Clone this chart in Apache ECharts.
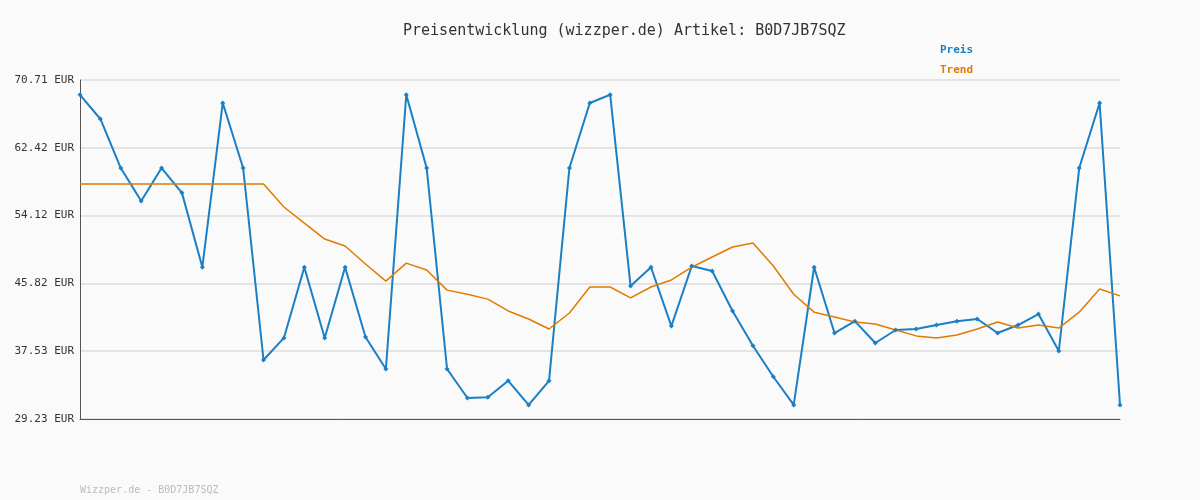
<!DOCTYPE html>
<html><head><meta charset="utf-8">
<script src="https://cdn.jsdelivr.net/npm/echarts@6/dist/echarts.min.js"></script>
<style>html,body{margin:0;padding:0;background:#fafafa}#c{width:1200px;height:500px}</style>
</head><body><div id="c"></div>
<script>
const title = 'Preisentwicklung (wizzper.de) Artikel: B0D7JB7SQZ';
const footer = 'Wizzper.de - B0D7JB7SQZ';
const yMin = 29.23, yMax = 70.71;
const tickLabels = ['29.23 EUR','37.53 EUR','45.82 EUR','54.12 EUR','62.42 EUR','70.71 EUR'];
const preis = [68.9,65.94,59.94,55.9,59.94,56.9,47.8,67.9,59.94,36.45,39.15,47.8,39.15,47.8,39.27,35.35,68.9,59.94,35.35,31.8,31.9,33.9,30.95,33.9,59.94,67.9,68.9,45.5,47.8,40.6,47.95,47.34,42.45,38.2,34.4,30.95,47.8,39.75,41.2,38.53,40.12,40.24,40.73,41.2,41.47,39.75,40.73,42.07,37.55,59.94,67.9,30.95];
const trend = [57.99,57.99,57.99,57.99,57.99,57.99,57.99,57.99,57.99,57.99,55.17,53.2,51.25,50.4,48.2,46.1,48.3,47.46,45.0,44.5,43.9,42.45,41.47,40.24,42.2,45.38,45.38,44.04,45.38,46.24,47.8,49.05,50.27,50.77,47.95,44.5,42.3,41.7,41.1,40.85,40.12,39.4,39.15,39.5,40.24,41.1,40.36,40.73,40.36,42.3,45.14,44.3];
const cats = preis.map((_, i) => i + 1);
const range = yMax - yMin, step = range / 5;
const font = 'DejaVu Sans Mono';
const chart = echarts.init(document.getElementById('c'));
chart.setOption({
  backgroundColor: '#fafafa',
  animation: false,
  textStyle: {fontFamily: font},
  title: [{text: title, left: 398, top: 19, textStyle: {fontFamily: font, fontSize: 15, fontWeight: 'normal', color: '#333'}},
          {text: footer, left: 75, top: 480, textStyle: {fontFamily: font, fontSize: 10, fontWeight: 'normal', color: '#bbb'}}],
  legend: {orient: 'vertical', left: 930, top: 38, itemGap: 8, icon: 'none', itemWidth: 0,
    data: [{name: 'Preis', textStyle: {color: '#1a7fc4'}}, {name: 'Trend', textStyle: {color: '#e07b00'}}],
    textStyle: {fontFamily: font, fontSize: 11, fontWeight: 'bold'}},
  grid: {left: 80, right: 80, top: 80, bottom: 81},
  xAxis: {type: 'category', data: cats, boundaryGap: false,
    axisLine: {lineStyle: {color: '#555'}}, axisTick: {show: false}, axisLabel: {show: false}},
  yAxis: {type: 'value', min: 0, max: range, interval: step,
    axisLine: {show: true, lineStyle: {color: '#555'}}, axisTick: {show: false},
    splitLine: {lineStyle: {color: '#e4e4e4', width: 2}},
    axisLabel: {fontFamily: font, fontSize: 11, color: '#333', margin: 6,
      formatter: v => tickLabels[Math.round(v / step)]}},
  series: [
    {name: 'Preis', type: 'line', data: preis.map(v => v - yMin), color: '#1a7fc4',
      symbol: 'diamond', symbolSize: 5, lineStyle: {width: 2}},
    {name: 'Trend', type: 'line', data: trend.map(v => v - yMin), color: '#e07b00',
      showSymbol: false, lineStyle: {width: 1.5}}
  ]
});
</script></body></html>
